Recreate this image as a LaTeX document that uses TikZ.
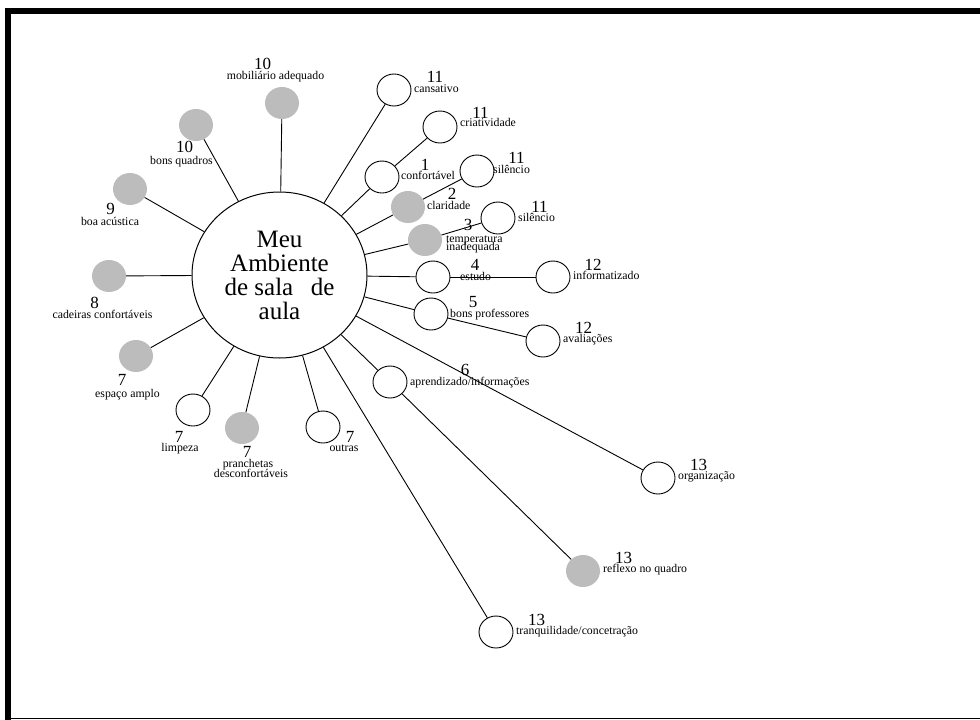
\documentclass[tikz,border=0pt]{standalone}
\usepackage{fontspec}
\setmainfont{Liberation Serif}
\usetikzlibrary{shapes.geometric}

\definecolor{bubblegray}{RGB}{188,188,188}

\tikzset{
  hub/.style={draw, ellipse, minimum width=175pt, minimum height=166pt, inner sep=0pt,
    line width=1pt, fill=white, align=center, font=\fontsize{25}{24}\selectfont},
  leaf/.style={draw, ellipse, minimum width=34pt, minimum height=32pt, inner sep=0pt,
    fill=white, line width=0.9pt},
  shaded/.style={ellipse, minimum width=34pt, minimum height=32pt, inner sep=0pt,
    fill=bubblegray},
  num/.style={inner sep=0pt, anchor=base, font=\fontsize{17}{17}\selectfont},
  lbl/.style={inner sep=0pt, anchor=base west, font=\fontsize{11.8}{10}\selectfont},
  lblc/.style={inner sep=0pt, anchor=base, font=\fontsize{11.8}{10}\selectfont},
  link/.style={line width=0.9pt},
}

\begin{document}
\begin{tikzpicture}[x=1pt, y=-1pt]
\useasboundingbox (0,0) rectangle (980,720);

% frame
\fill[black] (5,8) rectangle (980,14);
\fill[black] (5,8) rectangle (11,720);
\draw[line width=1pt] (11,718.5) -- (980,718.5);

% central node
\node[hub] (hub) at (279.5,275) {Meu\\Ambiente\\de sala\hspace{0.45em} de\\aula};

% first ring
\node[shaded] (mob)   at (282,103) {};
\node[shaded] (bq)    at (196,125) {};
\node[shaded] (ba)    at (130,189) {};
\node[shaded] (cc)    at (109,276) {};
\node[shaded] (ea)    at (136,356) {};
\node[leaf]   (lim)   at (193,410) {};
\node[shaded] (pra)   at (242,428) {};
\node[leaf]   (out)   at (323,427) {};
\node[leaf]   (cans)  at (394,90)  {};
\node[leaf]   (conf)  at (382,177) {};
\node[shaded] (clar)  at (408,207) {};
\node[shaded] (temp)  at (425,240) {};
\node[leaf]   (est)   at (433,277) {};
\node[leaf]   (bp)    at (431,314) {};
\node[leaf]   (apr)   at (390,382) {};
\node[leaf]   (org)   at (658,478) {};
\node[leaf]   (tranq) at (496,632) {};

% second ring
\node[leaf]   (cria)  at (440,127) {};
\node[leaf]   (sila)  at (477,171) {};
\node[leaf]   (silb)  at (498,218) {};
\node[leaf]   (inf)   at (553,277) {};
\node[leaf]   (aval)  at (543,341) {};
\node[shaded] (refl)  at (583,571) {};

% connectors
\foreach \t in {mob,bq,ba,cc,ea,lim,pra,out,cans,conf,clar,temp,est,bp,apr,org,tranq}
  \draw[link] (hub) -- (\t);
\draw[link] (conf) -- (cria);
\draw[link] (clar) -- (sila);
\draw[link] (temp) -- (silb);
\draw[link] (est) -- (inf);
\draw[link] (bp) -- (aval);
\draw[link] (apr) -- (refl);

% labels, left and top
\node[num]  (n-mob) at (262.5,69) {10};
\node[lblc] (l-mob) at (275.5,79.5) {mobiliário adequado};
\node[num]  (n-bq)  at (184.5,152) {10};
\node[lblc] (l-bq)  at (181.5,164) {bons quadros};
\node[num]  (n-ba)  at (110.5,214) {9};
\node[lblc] (l-ba)  at (110,225) {boa acústica};
\node[num]  (n-cc)  at (94.5,308) {8};
\node[lblc] (l-cc)  at (102.5,318) {cadeiras confortáveis};
\node[num]  (n-ea)  at (122,385) {7};
\node[lblc] (l-ea)  at (127.5,397) {espaço amplo};
\node[num]  (n-lim) at (179,442) {7};
\node[lblc] (l-lim) at (180,451) {limpeza};
\node[num]  (n-pra) at (247,457) {7};
\node[lblc] (l-pra) at (248,467) {pranchetas};
\node[lblc] (l-prb) at (251,477) {desconfortáveis};
\node[num]  (n-out) at (350,442) {7};
\node[lblc] (l-out) at (344,451) {outras};

% labels, right
\node[num] (n-cans) at (435,82) {11};
\node[lbl] (l-cans) at (414,92) {cansativo};
\node[num] (n-cria) at (480.5,118) {11};
\node[lbl] (l-cria) at (460,126) {criatividade};
\node[num] (n-conf) at (425,170) {1};
\node[lbl] (l-conf) at (401,179) {confortável};
\node[num] (n-sila) at (516.5,163) {11};
\node[lbl] (l-sila) at (493,173) {silêncio};
\node[num] (n-clar) at (452,199) {2};
\node[lbl] (l-clar) at (427,209) {claridade};
\node[num] (n-silb) at (539.5,212) {11};
\node[lbl] (l-silb) at (518,221) {silêncio};
\node[num] (n-temp) at (468,230) {3};
\node[lbl] (l-temp) at (446,242) {temperatura};
\node[lbl] (l-tmpb) at (446,250) {inadequada};
\node[num] (n-est)  at (475,270) {4};
\node[lbl] (l-est)  at (460,280) {estudo};
\node[num] (n-inf)  at (593,270) {12};
\node[lbl] (l-inf)  at (573,279) {informatizado};
\node[num] (n-bp)   at (473,307) {5};
\node[lbl] (l-bp)   at (450,317) {bons professores};
\node[num] (n-aval) at (583.5,333) {12};
\node[lbl] (l-aval) at (563,342) {avaliações};
\node[num] (n-apr)  at (465,375) {6};
\node[lbl] (l-apr)  at (410,385) {aprendizado/informações};
\node[num] (n-org)  at (698.5,470) {13};
\node[lbl] (l-org)  at (678,479) {organização};
\node[num] (n-refl) at (623.5,563) {13};
\node[lbl] (l-refl) at (603,572) {reflexo no quadro};
\node[num] (n-trq)  at (536.5,625) {13};
\node[lbl] (l-trq)  at (516,634) {tranquilidade/concetração};
\end{tikzpicture}
\end{document}
